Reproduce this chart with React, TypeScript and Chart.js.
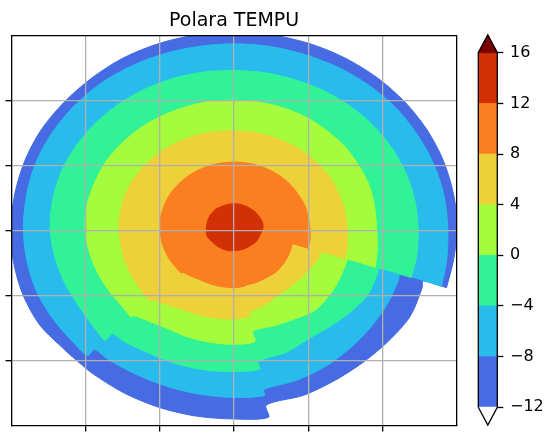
import React, { useEffect, useRef } from 'react';
import { Chart, registerables } from 'chart.js';

Chart.register(...registerables);

const chartTitle = 'Polara TEMPU';
const FONT = 'DejaVu Sans';

// pole (centre of the concentric contours), data units
const poleX = 0;
const poleY = 0.05;

// polar sample angles (degrees); repeated angles mark the seams between data sectors
const angleDeg = [
  -18, -10, 0, 10, 20, 30, 40, 50, 60, 70, 80, 90, 100, 110, 120, 130, 140, 150, 160, 170, 180, 190, 200, 210, 220, 225,
  225, 230, 240, 250, 260, 270, 279,
  279, 290, 300, 310, 320, 330, 340, 342,
];

// radius of each filled-contour boundary (value >= level) at every angle
const rLevelM12 = [
  3.01, 3.0, 3.01, 3.0, 3.0, 3.0, 3.0, 3.0, 3.0, 3.0, 3.0, 3.0, 3.0, 3.0, 3.0, 2.99, 2.99, 3.0, 3.0, 3.0, 3.01, 3.02, 3.03, 3.02, 2.96, 2.95,
  2.95, 2.95, 2.95, 2.95, 2.95, 2.95, 2.96,
  2.77, 2.75, 2.72, 2.71, 2.72, 2.74, 2.7, 2.68,
];
const rLevelM8 = [
  2.94, 2.91, 2.88, 2.87, 2.86, 2.85, 2.85, 2.84, 2.83, 2.82, 2.82, 2.82, 2.82, 2.83, 2.84, 2.85, 2.85, 2.85, 2.85, 2.84, 2.84, 2.84, 2.84, 2.82, 2.8, 2.79,
  2.66, 2.65, 2.62, 2.61, 2.61, 2.62, 2.62,
  2.53, 2.5, 2.47, 2.43, 2.4, 2.38, 2.36, 2.35,
];
const rLevelM4 = [
  2.51, 2.5, 2.48, 2.47, 2.46, 2.45, 2.44, 2.43, 2.42, 2.41, 2.41, 2.41, 2.42, 2.43, 2.44, 2.45, 2.46, 2.47, 2.48, 2.48, 2.48, 2.46, 2.44, 2.42, 2.44, 2.46,
  2.32, 2.3, 2.25, 2.24, 2.23, 2.22, 2.21,
  2.09, 2.05, 1.99, 2.0, 2.04, 2.08, 2.06, 2.05,
];
const rLevel0 = [
  2.0, 1.96, 1.92, 1.92, 1.93, 1.93, 1.94, 1.94, 1.95, 1.95, 1.95, 1.95, 1.96, 1.96, 1.97, 1.98, 1.99, 2.0, 2.0, 2.01, 2.01, 1.99, 1.97, 1.95, 1.94, 1.96,
  1.92, 1.86, 1.8, 1.8, 1.8, 1.8, 1.78,
  1.62, 1.61, 1.63, 1.68, 1.66, 1.63, 1.61, 1.61,
];
const rLevel4 = [
  1.57, 1.55, 1.52, 1.51, 1.5, 1.5, 1.49, 1.49, 1.48, 1.48, 1.48, 1.48, 1.49, 1.5, 1.51, 1.52, 1.53, 1.54, 1.55, 1.55, 1.55, 1.55, 1.56, 1.57, 1.59, 1.6,
  1.56, 1.52, 1.45, 1.43, 1.42, 1.41, 1.38,
  1.32, 1.26, 1.2, 1.19, 1.19, 1.21, 1.24, 1.24,
];
const rLevel8 = [
  1.05, 1.04, 1.02, 1.01, 1.01, 1.0, 1.0, 1.0, 1.0, 1.0, 1.0, 1.0, 1.0, 1.0, 1.0, 1.0, 1.0, 1.0, 1.0, 1.0, 1.0, 1.0, 1.0, 1.0, 1.0, 1.0,
  0.98, 0.96, 0.93, 0.93, 0.93, 0.93, 0.92,
  0.91, 0.9, 0.89, 0.89, 0.87, 0.85, 0.83, 0.82,
];
const rLevel12 = [
  0.37, 0.38, 0.39, 0.39, 0.38, 0.37, 0.37, 0.36, 0.36, 0.36, 0.36, 0.36, 0.36, 0.36, 0.36, 0.37, 0.37, 0.37, 0.37, 0.37, 0.37, 0.38, 0.39, 0.38, 0.37, 0.37,
  0.37, 0.37, 0.37, 0.37, 0.37, 0.36, 0.36,
  0.36, 0.36, 0.36, 0.36, 0.37, 0.37, 0.37, 0.37,
];

const levelBounds = [-12, -8, -4, 0, 4, 8, 12, 16];
const bandColors = ['#466be3', '#28bbec', '#32f298', '#a4fc3c', '#edd03a', '#fb7e21', '#d23105'];
const overColor = '#7a0403';
const underColor = '#ffffff';

const mapTicks = [-2, -1, 0, 1, 2];
const mapMin = -3;
const mapMax = 3;

const cbTicks = [-12, -8, -4, 0, 4, 8, 12, 16];
const cbExtendLow = -13.4;
const cbExtendHigh = 17.4;

function ring(radii: number[]) {
  const pts = angleDeg.map((a, k) => ({
    x: poleX + radii[k] * Math.cos((a * Math.PI) / 180),
    y: poleY + radii[k] * Math.sin((a * Math.PI) / 180),
  }));
  pts.push(pts[0]);
  return pts;
}

function fmtTick(v: number) {
  return v < 0 ? '\u2212' + Math.abs(v) : String(v);
}

export default function App() {
  const mapRef = useRef<HTMLCanvasElement>(null);
  const cbRef = useRef<HTMLCanvasElement>(null);

  useEffect(() => {
    const boundaries = [rLevelM12, rLevelM8, rLevelM4, rLevel0, rLevel4, rLevel8, rLevel12];
    const mapDatasets: any[] = boundaries
      .map((r, i) => ({
        label: 'level ' + levelBounds[i],
        data: ring(r),
        showLine: true,
        fill: 'shape',
        backgroundColor: bandColors[i],
        borderColor: bandColors[i],
        borderWidth: 1,
        pointRadius: 0,
        pointHoverRadius: 0,
        tension: 0.3,
        clip: 0,
      }))
      .reverse();

    const hideTicks = (axis: any) => {
      axis.ticks = mapTicks.map((v) => ({ value: v }));
    };

    const spine = { display: true, color: '#000', width: 1.3, z: 2 };

    const mapChart = new Chart(mapRef.current as HTMLCanvasElement, {
      type: 'scatter',
      data: { datasets: mapDatasets },
      options: {
        animation: false,
        responsive: false,
        devicePixelRatio: 1,
        events: [],
        layout: { padding: { left: 5.5, top: 9, right: 3.3, bottom: 1.5 } },
        plugins: {
          legend: { display: false },
          tooltip: { enabled: false },
          title: {
            display: true,
            text: chartTitle,
            fullSize: false,
            color: '#000',
            font: { family: FONT, size: 19, weight: 'normal' },
            padding: { top: 1, bottom: 2.5 },
          },
        },
        scales: {
          x: {
            type: 'linear',
            position: 'bottom',
            min: mapMin,
            max: mapMax,
            afterBuildTicks: hideTicks,
            ticks: { display: false },
            grid: { color: '#b0b0b0', lineWidth: 1.3, z: 1, drawTicks: true, tickLength: 6, tickColor: '#000', tickWidth: 1.3 },
            border: spine,
          },
          y: {
            type: 'linear',
            position: 'left',
            min: mapMin,
            max: mapMax,
            afterBuildTicks: hideTicks,
            ticks: { display: false },
            grid: { color: '#b0b0b0', lineWidth: 1.3, z: 1, drawTicks: true, tickLength: 6, tickColor: '#000', tickWidth: 1.3 },
            border: spine,
          },
          x2: {
            type: 'linear',
            position: 'top',
            min: mapMin,
            max: mapMax,
            ticks: { display: false },
            grid: { display: false, drawTicks: false, tickLength: 0 },
            border: spine,
          },
          y2: {
            type: 'linear',
            position: 'right',
            min: mapMin,
            max: mapMax,
            ticks: { display: false },
            grid: { display: false, drawTicks: false, tickLength: 0 },
            border: spine,
          },
        },
      } as any,
    });

    // colour bar
    const rect = (lo: number, hi: number) => [
      { x: 0, y: lo },
      { x: 1, y: lo },
      { x: 1, y: hi },
      { x: 0, y: hi },
      { x: 0, y: lo },
    ];
    const top = levelBounds[levelBounds.length - 1];
    const bottom = levelBounds[0];
    const cbDatasets: any[] = [];
    cbDatasets.push({
      label: 'outline',
      data: [
        { x: 0, y: bottom },
        { x: 0, y: top },
        { x: 0.5, y: cbExtendHigh },
        { x: 1, y: top },
        { x: 1, y: bottom },
        { x: 0.5, y: cbExtendLow },
        { x: 0, y: bottom },
      ],
      showLine: true,
      fill: false,
      borderColor: '#000',
      borderWidth: 1.3,
      pointRadius: 0,
      tension: 0,
      clip: false,
    });
    cbDatasets.push({
      label: 'over',
      data: [
        { x: 0, y: top },
        { x: 1, y: top },
        { x: 0.5, y: cbExtendHigh },
        { x: 0, y: top },
      ],
      showLine: true,
      fill: 'shape',
      backgroundColor: overColor,
      borderColor: overColor,
      borderWidth: 1,
      pointRadius: 0,
      tension: 0,
      clip: false,
    });
    cbDatasets.push({
      label: 'under',
      data: [
        { x: 0, y: bottom },
        { x: 1, y: bottom },
        { x: 0.5, y: cbExtendLow },
        { x: 0, y: bottom },
      ],
      showLine: true,
      fill: 'shape',
      backgroundColor: underColor,
      borderColor: underColor,
      borderWidth: 1,
      pointRadius: 0,
      tension: 0,
      clip: false,
    });
    for (let i = 0; i < bandColors.length; i++) {
      cbDatasets.push({
        label: 'band ' + levelBounds[i],
        data: rect(levelBounds[i], levelBounds[i + 1]),
        showLine: true,
        fill: 'shape',
        backgroundColor: bandColors[i],
        borderColor: bandColors[i],
        borderWidth: 0.6,
        pointRadius: 0,
        tension: 0,
        clip: 0,
      });
    }

    const cbChart = new Chart(cbRef.current as HTMLCanvasElement, {
      type: 'scatter',
      data: { datasets: cbDatasets },
      options: {
        animation: false,
        responsive: false,
        devicePixelRatio: 1,
        events: [],
        layout: { padding: { left: 18.3, top: 35, right: 6.7, bottom: 8 } },
        plugins: { legend: { display: false }, tooltip: { enabled: false }, title: { display: false } },
        scales: {
          x: { type: 'linear', min: 0, max: 1, display: false },
          y: {
            type: 'linear',
            position: 'right',
            min: cbExtendLow,
            max: cbExtendHigh,
            afterBuildTicks: (axis: any) => {
              axis.ticks = cbTicks.map((v) => ({ value: v }));
            },
            afterFit: (axis: any) => {
              axis.width = 46;
              axis.paddingTop = 0;
              axis.paddingBottom = 0;
            },
            ticks: {
              color: '#000',
              font: { family: FONT, size: 16 },
              padding: 6.7,
              callback: (v: any) => fmtTick(Number(v)),
            },
            grid: { drawOnChartArea: false, drawTicks: true, tickLength: 6, tickColor: '#000', tickWidth: 1.3 },
            border: { display: false },
          },
        },
      } as any,
    });

    return () => {
      mapChart.destroy();
      cbChart.destroy();
    };
  }, []);

  return (
    <div style={{ position: 'absolute', left: 0, top: 0, width: 550, height: 433, background: '#fff', overflow: 'hidden' }}>
      <canvas ref={mapRef} width={460} height={433} style={{ position: 'absolute', left: 0, top: 0, width: 460, height: 433 }} />
      <canvas ref={cbRef} width={90} height={433} style={{ position: 'absolute', left: 460, top: 0, width: 90, height: 433 }} />
    </div>
  );
}
